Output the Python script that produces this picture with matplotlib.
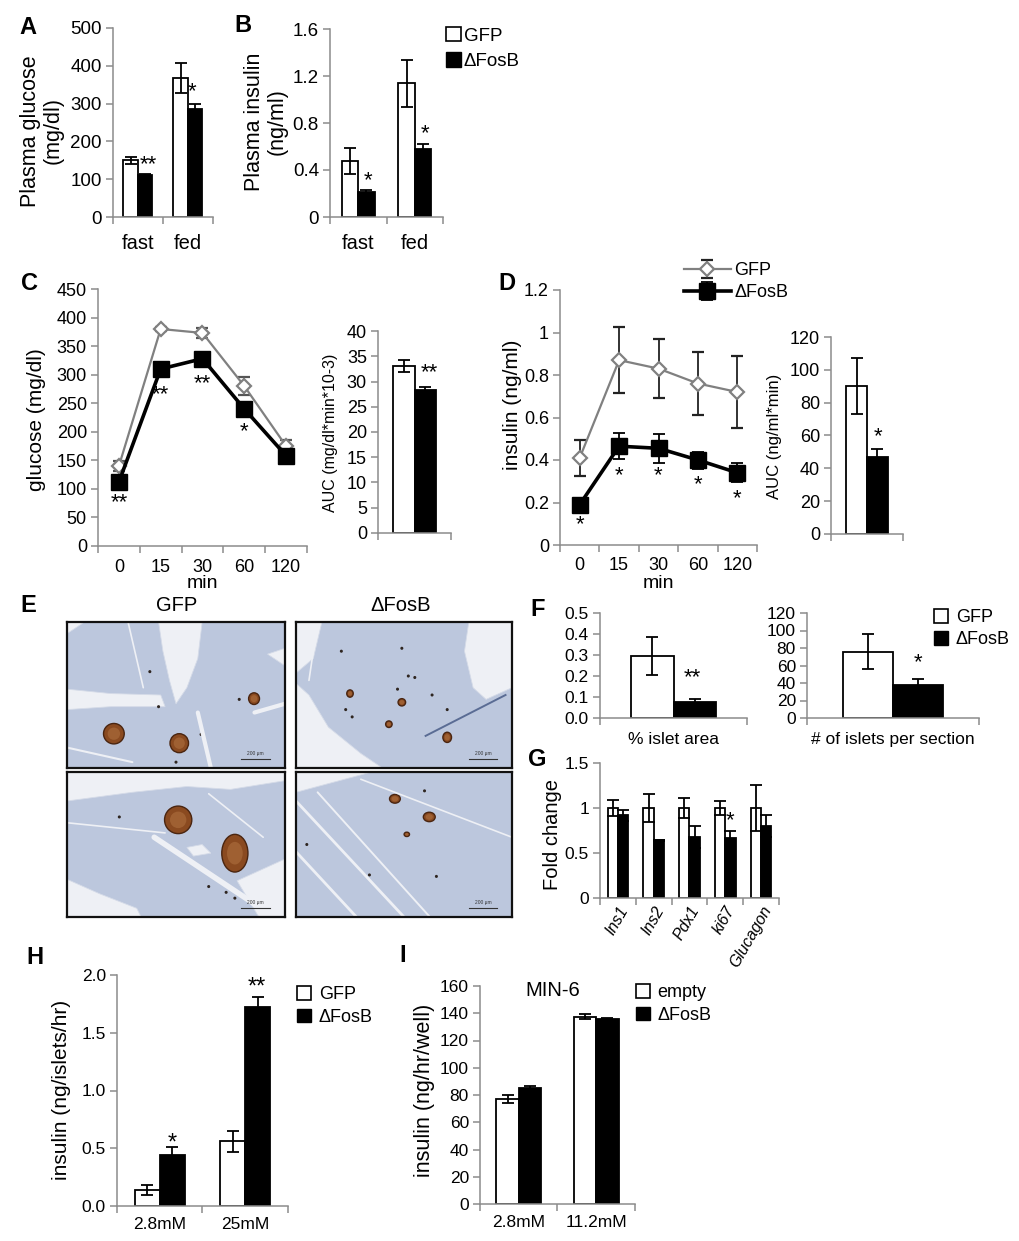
import matplotlib; matplotlib.use('Agg')
import matplotlib.pyplot as plt
from matplotlib.patches import Patch, Ellipse, Polygon
import numpy as np

plt.rcParams['font.family'] = ['Liberation Sans', 'DejaVu Sans']
W, H = 1020, 1241

# ---- data ----
meal = ['fast', 'fed']
glu_gfp, glu_gfp_err = [150, 368], [10, 40]
glu_fos, glu_fos_err = [110, 285], [5, 15]
pins_gfp, pins_gfp_err = [0.48, 1.14], [0.11, 0.20]
pins_fos, pins_fos_err = [0.21, 0.58], [0.02, 0.04]

tpoints = ['0', '15', '30', '60', '120']
gtt_gfp, gtt_gfp_err = [140, 380, 373, 280, 175], [8, 3, 8, 16, 10]
gtt_fos, gtt_fos_err = [112, 310, 328, 240, 158], [4, 4, 4, 5, 4]
gauc, gauc_err = [33.0, 28.3], [1.2, 0.6]

gsis_gfp, gsis_gfp_err = [0.41, 0.87, 0.83, 0.76, 0.72], [0.085, 0.155, 0.14, 0.15, 0.17]
gsis_fos, gsis_fos_err = [0.19, 0.465, 0.455, 0.40, 0.34], [0.01, 0.06, 0.067, 0.04, 0.045]
iauc, iauc_err = [90, 47], [17, 5]

islet_area, islet_area_err = [0.295, 0.075], [0.09, 0.015]
islet_num, islet_num_err = [76, 38], [20, 7]

genes = ['Ins1', 'Ins2', 'Pdx1', 'ki67', 'Glucagon']
fold_gfp, fold_gfp_err = [1, 1, 1, 1, 1], [0.09, 0.16, 0.11, 0.08, 0.26]
fold_fos, fold_fos_err = [0.92, 0.64, 0.68, 0.67, 0.80], [0.06, 0.01, 0.12, 0.08, 0.12]

glc_islet = ['2.8mM', '25mM']
sec_gfp, sec_gfp_err = [0.14, 0.56], [0.045, 0.09]
sec_fos, sec_fos_err = [0.44, 1.72], [0.07, 0.09]

glc_min6 = ['2.8mM', '11.2mM']
min6_empty, min6_empty_err = [77, 137.5], [3, 2]
min6_fos, min6_fos_err = [85, 135.5], [1.5, 1]

fig = plt.figure(figsize=(W/100, H/100), dpi=100)
GR = '#8c8c8c'

def box(x0, y0, x1, y1):
    return fig.add_axes([x0/W, 1-y1/H, (x1-x0)/W, (y1-y0)/H])
def ft(x, y, s, **kw):
    kw.setdefault('ha', 'center'); kw.setdefault('va', 'center')
    fig.text(x/W, 1-y/H, s, **kw)
def letter(x, y, s):
    ft(x, y, s, fontsize=17, fontweight='bold')

def excel(ax, ymax, yt, ylab, cats, fs=13):
    n = len(cats)
    ax.set_xlim(-0.5, n-0.5); ax.set_ylim(0, ymax)
    for s in ['top', 'right']: ax.spines[s].set_visible(False)
    for s in ['left', 'bottom']:
        ax.spines[s].set_color(GR); ax.spines[s].set_linewidth(1.1)
    ax.set_yticks(yt); ax.set_yticklabels(ylab)
    ax.set_xticks(np.arange(n+1)-0.5); ax.set_xticklabels([])
    ax.set_xticks(np.arange(n), minor=True); ax.set_xticklabels(cats, minor=True)
    ax.tick_params(which='major', color=GR, direction='out', length=5, width=1.1, labelsize=fs, pad=3)
    ax.tick_params(axis='x', which='minor', length=0, labelsize=fs, pad=6)
    ax.patch.set_alpha(0)

EK = dict(ecolor='black', elinewidth=1.3, capsize=4, capthick=1.3)
def bars(ax, a, ae, b, be, la='GFP', lb='ΔFosB'):
    x = np.arange(len(a))
    ax.bar(x-0.145, a, 0.29, yerr=ae, color='white', edgecolor='black', lw=1.3, error_kw=EK, label=la)
    ax.bar(x+0.145, b, 0.29, yerr=be, color='black', edgecolor='black', lw=1.3, error_kw=EK, label=lb)

def sqleg(ax, x, y, labels, fs=13, sp=0.35, tp=0.4):
    hs = [Patch(fc='white', ec='black', lw=1.2), Patch(fc='black', ec='black')]
    ax.legend(hs, labels, loc='upper left', bbox_to_anchor=(x/W, 1-y/H), bbox_transform=fig.transFigure,
              frameon=False, fontsize=fs, handlelength=0.8, handleheight=0.8, handletextpad=tp,
              labelspacing=sp, borderpad=0, borderaxespad=0)

def star(ax, x, y, s, fs=16):
    ax.text(x, y, s, ha='center', va='center', fontsize=fs)

# ---- A ----
ax = box(113, 28, 213, 217)
excel(ax, 500, range(0, 501, 100), [str(v) for v in range(0, 501, 100)], meal, fs=13.5)
ax.tick_params(axis='x', which='minor', labelsize=14.5, pad=12)
bars(ax, glu_gfp, glu_gfp_err, glu_fos, glu_fos_err)
star(ax, 0.2, 138, '**'); star(ax, 1.08, 332, '*')
ft(42, 131, 'Plasma glucose\n(mg/dl)', rotation=90, fontsize=15.5, linespacing=1.1)
letter(28, 27, 'A')

# ---- B ----
ax = box(330, 29, 443, 217)
excel(ax, 1.6, [0, 0.4, 0.8, 1.2, 1.6], ['0', '0.4', '0.8', '1.2', '1.6'], meal, fs=13.5)
ax.tick_params(axis='x', which='minor', labelsize=14.5, pad=12)
bars(ax, pins_gfp, pins_gfp_err, pins_fos, pins_fos_err)
star(ax, 0.17, 0.305, '*'); star(ax, 1.18, 0.71, '*')
ft(266, 122, 'Plasma insulin\n(ng/ml)', rotation=90, fontsize=15.5, linespacing=1.1)
letter(243, 25, 'B')
sqleg(ax, 446, 27, ['GFP', 'ΔFosB'], fs=13.5, sp=0.4, tp=0.15)

# ---- C ----
def lines(ax, g, ge, f, fe, gcol_err):
    x = np.arange(len(g))
    h1 = ax.errorbar(x, g, yerr=ge, color='#808080', lw=1.6, marker='D', ms=7, mfc='white', mec='#808080',
                     mew=1.6, ecolor=gcol_err, elinewidth=1.3, capsize=4, capthick=1.3, zorder=3)
    h2 = ax.errorbar(x, f, yerr=fe, color='black', lw=2.6, marker='s', ms=11, mfc='black', mec='black',
                     ecolor='black', elinewidth=1.3, capsize=4, capthick=1.3, zorder=4)
    return h1, h2

ax = box(98, 289, 307, 546)
excel(ax, 450, range(0, 451, 50), [str(v) for v in range(0, 451, 50)], tpoints, fs=13)
ax.tick_params(axis='x', which='minor', pad=9)
lines(ax, gtt_gfp, gtt_gfp_err, gtt_fos, gtt_fos_err, '#555555')
for xx, yy, s in [(0, 75, '**'), (1, 265, '**'), (2, 285, '**'), (3, 200, '*')]:
    star(ax, xx, yy, s)
ax.set_xlabel('min', fontsize=14, labelpad=0)
ft(37, 420, 'glucose (mg/dl)', rotation=90, fontsize=15)
letter(30, 283, 'C')

ax = box(378, 331, 451, 533)
excel(ax, 40, range(0, 41, 5), [str(v) for v in range(0, 41, 5)], [''], fs=13)
bars(ax, gauc[:1], gauc_err[:1], gauc[1:], gauc_err[1:])
star(ax, 0.2, 31.8, '**')
ft(330, 433, 'AUC (mg/dl*min*10-3)', rotation=90, fontsize=11.5)

# ---- D ----
ax = box(560, 290, 757, 545)
excel(ax, 1.2, [0, 0.2, 0.4, 0.6, 0.8, 1.0, 1.2], ['0', '0.2', '0.4', '0.6', '0.8', '1', '1.2'], tpoints, fs=13)
ax.tick_params(axis='x', which='minor', pad=9)
h1, h2 = lines(ax, gsis_gfp, gsis_gfp_err, gsis_fos, gsis_fos_err, '#222222')
for xx, yy in [(0, 0.095), (1, 0.325), (2, 0.325), (3, 0.285), (4, 0.22)]:
    star(ax, xx, yy, '*')
ax.set_xlabel('min', fontsize=14, labelpad=0)
ax.legend([h1, h2], ['GFP', 'ΔFosB'], loc='upper left', bbox_to_anchor=(684/W, 1-262/H),
          bbox_transform=fig.transFigure, frameon=False, fontsize=13, handlelength=2.6,
          handletextpad=0.2, labelspacing=0.3, borderpad=0, borderaxespad=0)
ft(513, 405, 'insulin (ng/ml)', rotation=90, fontsize=15)
letter(507, 283, 'D')

ax = box(831, 337, 903, 534)
excel(ax, 120, range(0, 121, 20), [str(v) for v in range(0, 121, 20)], [''], fs=13)
bars(ax, iauc[:1], iauc_err[:1], iauc[1:], iauc_err[1:])
star(ax, 0.15, 59, '*')
ft(775, 436, 'AUC (ng/ml*min)', rotation=90, fontsize=12)

# ---- E : islet sections (drawn) ----
def section(ax, whites, wl, islets, dots, dark=()):
    ax.set_xlim(0, 1); ax.set_ylim(1, 0); ax.set_xticks([]); ax.set_yticks([])
    ax.set_facecolor('#bcc7dd')
    for p in whites:
        ax.add_patch(Polygon(p, closed=True, fc='#eef0f5', ec='#d5dbe8', lw=0.6))
    for x0, y0, x1, y1, lw in wl:
        ax.plot([x0, x1], [y0, y1], color='#eef0f5', lw=lw, solid_capstyle='round')
    for x0, y0, x1, y1 in dark:
        ax.plot([x0, x1], [y0, y1], color='#5a6c94', lw=1.4)
    for x, y, w, h in islets:
        ax.add_patch(Ellipse((x, y), w, h, fc='#8a4a20', ec='#4a2510', lw=1.0))
        ax.add_patch(Ellipse((x, y), w*0.6, h*0.6, fc='#a86a3a', ec='none', alpha=0.7))
    for x, y in dots:
        ax.add_patch(Ellipse((x, y), 0.014, 0.021, fc='#2e2520', ec='none'))
    ax.plot([0.80, 0.93], [0.935, 0.935], color='#333333', lw=0.8)
    ax.text(0.865, 0.915, '200 µm', fontsize=3.5, ha='center', va='bottom', color='#333333')
    for s in ax.spines.values():
        s.set_linewidth(1.6); s.set_color('#111111')

ax = box(67, 622, 285, 768)
section(ax,
        [[(0.42, 0), (0.62, 0), (0.60, 0.25), (0.55, 0.45), (0.50, 0.56), (0.47, 0.40), (0.44, 0.2)],
         [(0, 0.46), (0.2, 0.49), (0.43, 0.50), (0.45, 0.58), (0.2, 0.58), (0, 0.60)],
         [(0, 0), (0.08, 0), (0, 0.08)], [(0.92, 0.22), (1, 0.18), (1, 0.30)]],
        [(0.60, 0.62, 0.66, 1.0, 3), (0.86, 0.62, 1.0, 0.56, 3), (0.0, 0.86, 0.3, 0.96, 1.5),
         (0.28, 0.0, 0.35, 0.45, 1.2)],
        [(0.215, 0.765, 0.095, 0.14), (0.515, 0.83, 0.085, 0.13), (0.858, 0.525, 0.05, 0.08)],
        [(0.42, 0.58), (0.615, 0.77), (0.79, 0.53), (0.38, 0.34), (0.50, 0.96)])
ax = box(67, 772, 285, 917)
section(ax,
        [[(0, 0), (1, 0), (1, 0.06), (0.75, 0.12), (0.55, 0.10), (0.3, 0.14), (0, 0.2)],
         [(0, 0.74), (0.15, 0.84), (0.32, 0.94), (0.34, 1), (0, 1)],
         [(0.78, 0.75), (1, 0.6), (1, 1), (0.88, 1)],
         [(0.55, 0.52), (0.62, 0.5), (0.66, 0.56), (0.58, 0.58)]],
        [(0.40, 0.45, 0.95, 1.0, 4), (0.0, 0.35, 0.45, 0.42, 1.2), (0.65, 0.15, 0.9, 0.45, 1.2)],
        [(0.51, 0.33, 0.125, 0.19), (0.77, 0.56, 0.12, 0.26)],
        [(0.73, 0.83), (0.77, 0.87), (0.65, 0.79), (0.24, 0.31)])
ax = box(296, 622, 512, 768)
section(ax,
        [[(0, 0.42), (0.06, 0.5), (0.15, 0.72), (0.3, 0.9), (0.4, 1), (0, 1)],
         [(0, 0), (0.12, 0), (0.08, 0.25), (0, 0.35)],
         [(0.80, 0), (1, 0), (1, 0.45), (0.88, 0.53), (0.82, 0.45), (0.78, 0.2)]],
        [(0.1, 0.0, 0.06, 0.4, 1.2)],
        [(0.25, 0.49, 0.03, 0.05), (0.49, 0.55, 0.035, 0.05), (0.43, 0.70, 0.03, 0.045),
         (0.70, 0.79, 0.04, 0.07)],
        [(0.21, 0.20), (0.49, 0.18), (0.63, 0.50), (0.23, 0.60), (0.26, 0.65), (0.52, 0.37),
         (0.55, 0.38), (0.47, 0.46), (0.70, 0.6)],
        dark=[(0.97, 0.5, 0.6, 0.78)])
ax = box(296, 772, 512, 917)
section(ax,
        [[(0, 0), (0.35, 0), (0, 0.14)]],
        [(0.0, 0.2, 0.5, 1.0, 2), (0.1, 0.14, 0.62, 1.0, 1.4), (0.0, 0.55, 0.28, 1.0, 2),
         (0.3, 0.05, 1.0, 0.45, 1.2)],
        [(0.458, 0.185, 0.05, 0.06), (0.617, 0.31, 0.055, 0.065), (0.513, 0.43, 0.025, 0.03)],
        [(0.595, 0.13), (0.34, 0.71), (0.65, 0.72), (0.05, 0.50)])
ft(177, 606, 'GFP', fontsize=14.5)
ft(401, 606, 'ΔFosB', fontsize=14.5)
letter(28, 606, 'E')

# ---- F ----
ax = box(600, 613, 747, 718)
excel(ax, 0.5, [0, 0.1, 0.2, 0.3, 0.4, 0.5], ['0.0', '0.1', '0.2', '0.3', '0.4', '0.5'], ['% islet area'], fs=12.5)
ax.tick_params(axis='x', which='minor', pad=10)
bars(ax, islet_area[:1], islet_area_err[:1], islet_area[1:], islet_area_err[1:])
star(ax, 0.13, 0.19, '**')
letter(538, 609, 'F')

ax = box(807, 613, 979, 718)
excel(ax, 120, range(0, 121, 20), [str(v) for v in range(0, 121, 20)], ['# of islets per section'], fs=12.5)
ax.tick_params(axis='x', which='minor', pad=10)
bars(ax, islet_num[:1], islet_num_err[:1], islet_num[1:], islet_num_err[1:])
star(ax, 0.145, 63, '*')
sqleg(ax, 934, 609, ['GFP', 'ΔFosB'], fs=13, sp=0.25)

# ---- G ----
ax = box(600, 763, 779, 898)
excel(ax, 1.5, [0, 0.5, 1, 1.5], ['0', '0.5', '1', '1.5'], genes, fs=12.5)
ax.set_xticklabels(genes, minor=True, rotation=60, ha='right', rotation_mode='anchor', style='italic', fontsize=11.5)
ax.tick_params(axis='x', which='minor', pad=4)
bars(ax, fold_gfp, fold_gfp_err, fold_fos, fold_fos_err)
star(ax, 3.14, 0.86, '*')
ft(553, 835, 'Fold change', rotation=90, fontsize=14.5)
letter(537, 760, 'G')

# ---- H ----
ax = box(117, 975, 288, 1206)
excel(ax, 2.0, [0, 0.5, 1.0, 1.5, 2.0], ['0.0', '0.5', '1.0', '1.5', '2.0'], glc_islet, fs=12.5)
ax.tick_params(axis='x', which='minor', pad=8)
bars(ax, sec_gfp, sec_gfp_err, sec_fos, sec_fos_err)
star(ax, 0.15, 0.54, '*', 17); star(ax, 1.14, 1.89, '**', 17)
sqleg(ax, 297, 986, ['GFP', 'ΔFosB'], fs=13, sp=0.3)
ft(62, 1090, 'insulin (ng/islets/hr)', rotation=90, fontsize=15)
letter(35, 958, 'H')

# ---- I ----
ax = box(480, 986, 635, 1204)
excel(ax, 160, range(0, 161, 20), [str(v) for v in range(0, 161, 20)], glc_min6, fs=12.5)
ax.tick_params(axis='x', which='minor', pad=8)
bars(ax, min6_empty, min6_empty_err, min6_fos, min6_fos_err, la='empty')
sqleg(ax, 636, 984, ['empty', 'ΔFosB'], fs=13, sp=0.3)
ft(553, 990, 'MIN-6', fontsize=14.5)
ft(425, 1090, 'insulin (ng/hr/well)', rotation=90, fontsize=15.5)
letter(403, 955, 'I')

plt.savefig('out.png', dpi=100, facecolor='white')
